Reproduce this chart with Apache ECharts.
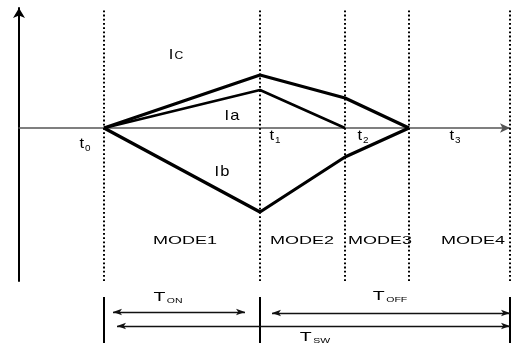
<!DOCTYPE html>
<html>
<head>
<meta charset="utf-8">
<script src="https://cdn.jsdelivr.net/npm/echarts@6/dist/echarts.min.js"></script>
<style>
  html, body { margin: 0; padding: 0; background: #fff; }
  #chart { width: 512px; height: 347px; }
</style>
</head>
<body>
<div id="chart"></div>
<script>
  // switching instants t0..t3 and end of period (time units)
  const instants = [8.5, 24.1, 32.6, 39.0, 49.1];
  // branch currents at the instants
  const currentIc = [0, 5.3, 3.0, 0];
  const currentIa = [0, 3.8, 0];
  const currentIb = [0, -8.4, -2.9, 0];
  const modeNames = ['MODE1', 'MODE2', 'MODE3', 'MODE4'];
  const instantNames = ['0', '1', '2', '3'];

  const FONT = '"Liberation Sans", Arial, sans-serif';

  function pairs(ys) {
    return ys.map(function (y, i) { return [instants[i], y]; });
  }

  const rich = {
    I: { font: '15px ' + FONT, fill: '#000' },
    c: { font: '11px ' + FONT, fill: '#000', padding: [2, 0, 0, 1] },
    a: { font: '15px ' + FONT, fill: '#000', padding: [0, 0, 0, 1] },
    t: { font: '15px ' + FONT, fill: '#000' },
    ts: { font: '9px ' + FONT, fill: '#000', padding: [9, 0, 0, 1] },
    T: { font: '13px ' + FONT, fill: '#000' },
    Ts: { font: '7px ' + FONT, fill: '#000', padding: [8, 0, 0, 1] },
    m: { font: '10px ' + FONT, fill: '#000' }
  };

  // text annotations on the waveform grid [x, y, text, scaleX]
  const waveLabels = [
    [15.7, 7.3, '{I|I}{c|C}', 1.1],
    [21.3, 1.2, '{I|I}{a|a}', 1.1],
    [20.3, -4.4, '{I|I}{a|b}', 1.1],
    [6.6, -1.6, '{t|t}{ts|' + instantNames[0] + '}', 1.1],
    [25.6, -0.8, '{t|t}{ts|' + instantNames[1] + '}', 1.1],
    [34.4, -0.8, '{t|t}{ts|' + instantNames[2] + '}', 1.1],
    [43.6, -0.8, '{t|t}{ts|' + instantNames[3] + '}', 1.1]
  ];
  const modeX = [16.6, 28.3, 36.1, 45.4];
  modeNames.forEach(function (m, i) {
    waveLabels.push([modeX[i], -11.3, '{m|' + m + '}', 1.8]);
  });

  // timing annotations on the lower grid
  const timeLabels = [
    [14.9, 5.0, '{T|T}{Ts|ON}', 1.5],
    [37.1, 5.1, '{T|T}{Ts|OFF}', 1.5],
    [29.6, 1.0, '{T|T}{Ts|SW}', 1.5]
  ];

  function textSeries(labels, axisIndex) {
    return {
      type: 'custom',
      xAxisIndex: axisIndex,
      yAxisIndex: axisIndex,
      silent: true,
      z: 10,
      data: labels.map(function (l) { return [l[0], l[1]]; }),
      renderItem: function (params, api) {
        const p = api.coord([api.value(0), api.value(1)]);
        const l = labels[params.dataIndex];
        return {
          type: 'text',
          x: p[0],
          y: p[1],
          scaleX: l[3],
          style: {
            text: l[2],
            rich: rich,
            align: 'center',
            verticalAlign: 'middle'
          }
        };
      }
    };
  }

  const chart = echarts.init(document.getElementById('chart'));

  const tEnd = instants[4];
  const bars = [instants[0], instants[1], tEnd].map(function (t) {
    return [{ coord: [t, 0.4] }, { coord: [t, 5.0] }];
  });
  const arrows = [
    [{ coord: [instants[0] + 0.9, 3.5] }, { coord: [instants[1] - 1.5, 3.5] }],
    [{ coord: [instants[1] + 1.2, 3.4] }, { coord: [tEnd, 3.4] }],
    [{ coord: [instants[0] + 1.3, 2.1] }, { coord: [tEnd, 2.1] }]
  ];

  const currentStyle = { color: '#000', width: 3.2 };

  chart.setOption({
    animation: false,
    backgroundColor: '#fff',
    grid: [
      { left: 19, width: 491, top: 8, bottom: 66 },
      { left: 19, width: 491, top: 290, bottom: 0 }
    ],
    xAxis: [
      {
        type: 'value', gridIndex: 0, min: 0, max: tEnd,
        axisLine: {
          onZero: true, symbol: ['none', 'arrow'], symbolSize: [7, 10],
          lineStyle: { color: '#555', width: 1.5 }
        },
        axisTick: { show: false }, axisLabel: { show: false }, splitLine: { show: false }
      },
      {
        type: 'value', gridIndex: 1, min: 0, max: tEnd, show: false
      }
    ],
    yAxis: [
      {
        type: 'value', gridIndex: 0, min: -15.3, max: 12,
        axisLine: {
          show: true, symbol: ['none', 'arrow'], symbolSize: [9, 10],
          lineStyle: { color: '#000', width: 2 }
        },
        axisTick: { show: false }, axisLabel: { show: false }, splitLine: { show: false }
      },
      {
        type: 'value', gridIndex: 1, min: 0, max: 5.7, show: false
      }
    ],
    series: [
      {
        name: 'Ic', type: 'line', data: pairs(currentIc), symbol: 'none',
        lineStyle: currentStyle, z: 5,
        markLine: {
          silent: true, symbol: 'none', label: { show: false },
          lineStyle: { color: '#000', width: 2, type: [1.8, 2.4] },
          data: instants.map(function (t) { return { xAxis: t }; })
        }
      },
      { name: 'Ia', type: 'line', data: pairs(currentIa), symbol: 'none', lineStyle: { color: '#000', width: 2.6 }, z: 5 },
      { name: 'Ib', type: 'line', data: pairs(currentIb), symbol: 'none', lineStyle: currentStyle, z: 5 },
      {
        type: 'line', xAxisIndex: 1, yAxisIndex: 1, data: [],
        markLine: {
          silent: true, symbol: 'none', label: { show: false },
          lineStyle: { color: '#000', width: 2, type: 'solid' },
          data: bars
        }
      },
      {
        type: 'line', xAxisIndex: 1, yAxisIndex: 1, data: [],
        markLine: {
          silent: true, symbol: ['arrow', 'arrow'], symbolSize: [5, 9], label: { show: false },
          lineStyle: { color: '#111', width: 1.3, type: 'solid' },
          data: arrows
        }
      },
      textSeries(waveLabels, 0),
      textSeries(timeLabels, 1)
    ]
  });
</script>
</body>
</html>
